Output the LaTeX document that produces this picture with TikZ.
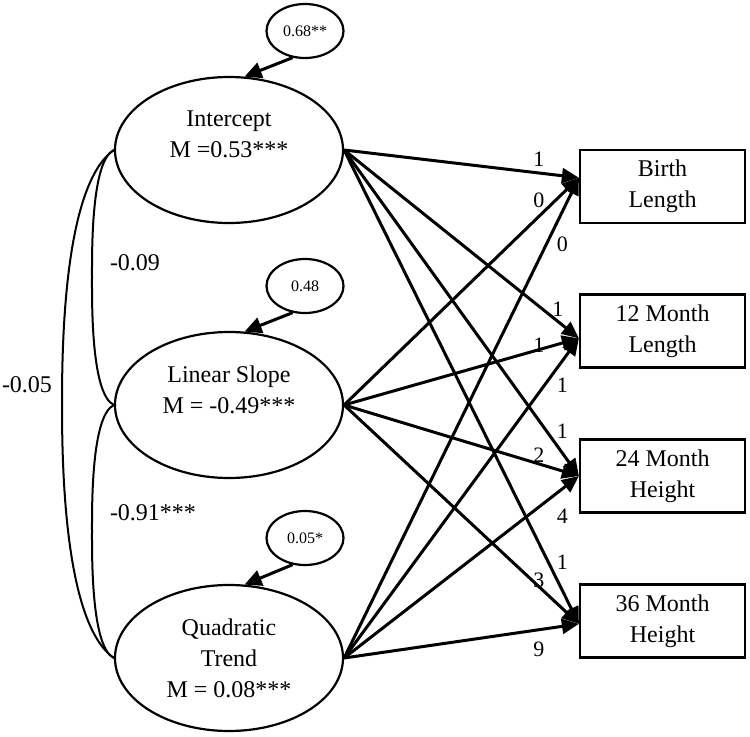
\documentclass[tikz,border=0pt]{standalone}
\usepackage{fontspec}
\setmainfont{Liberation Serif}
\usetikzlibrary{shapes.geometric,arrows.meta}

\begin{document}
\begin{tikzpicture}[x=0.5pt,y=0.5pt,
    factor/.style={draw,ellipse,line width=1.1pt,minimum width=114pt,minimum height=73pt,inner sep=0pt,align=center,font=\fontsize{12}{15.5}\selectfont},
    resid/.style={draw,ellipse,line width=1.1pt,minimum width=38.5pt,minimum height=27pt,inner sep=0pt,font=\fontsize{8}{10}\selectfont},
    measure/.style={draw,rectangle,line width=1.1pt,minimum width=82.5pt,minimum height=36.5pt,inner sep=0pt,align=center,font=\fontsize{12}{15.5}\selectfont},
    load/.style={-{Triangle[length=8.5pt,width=7.5pt]},line width=1.5pt},
    var/.style={-{Triangle[length=8.5pt,width=8pt]},line width=1.5pt},
    cov/.style={line width=1pt},
    coef/.style={inner sep=0.5pt,font=\fontsize{11}{13}\selectfont},
    covlab/.style={inner sep=0pt,font=\fontsize{12}{14}\selectfont}]
  \useasboundingbox (0,0) rectangle (750,736);

  \node[factor] (int) at (229,586) {Intercept\\M =0.53***\\\mbox{}};
  \node[factor] (lin) at (229,331) {Linear Slope\\M = -0.49***\\\mbox{}};
  \node[factor] (quad) at (229,78) {Quadratic\\Trend\\M = 0.08***};

  \node[resid] (vint) at (305,705) {0.68**};
  \node[resid] (vlin) at (305,450) {0.48};
  \node[resid] (vquad) at (305,198) {0.05*};

  \node[measure] (birth) at (662.5,549.5) {Birth\\Length};
  \node[measure] (m12) at (662.5,405) {12 Month\\Length};
  \node[measure] (m24) at (662.5,260) {24 Month\\Height};
  \node[measure] (m36) at (662.5,115) {36 Month\\Height};

  \path [var] (vint.-115) edge (int.78);
  \path [var] (vlin.-115) edge (lin.78);
  \path [var] (vquad.-115) edge (quad.78);

  \path [load] (int.east) edge node[coef,pos=.83,above=2.2pt] {1} (birth.174);
  \path [load] (int.east) edge node[coef,pos=.91,above=1.2pt] {1} (m12.185);
  \path [load] (int.east) edge node[coef,pos=.93,above=6pt] {1} (m24.west);
  \path [load] (int.east) edge node[coef,pos=.93,above=9.6pt] {1} (m36.182);
  \path [load] (lin.east) edge node[coef,pos=.83,above=3.2pt] {0} (birth.174);
  \path [load] (lin.east) edge node[coef,pos=.83,above=-2.8pt] {1} (m12.185);
  \path [load] (lin.east) edge node[coef,pos=.83,above=-0.3pt] {2} (m24.west);
  \path [load] (lin.east) edge node[coef,pos=.83,above=-1.7pt] {3} (m36.182);
  \path [load] (quad.east) edge node[coef,pos=.93,below=11.6pt] {0} (birth.174);
  \path [load] (quad.east) edge node[coef,pos=.93,below=7.6pt] {1} (m12.185);
  \path [load] (quad.east) edge node[coef,pos=.93,below=9.1pt] {4} (m24.west);
  \path [load] (quad.east) edge node[coef,pos=.83,below=5.1pt] {9} (m36.182);

  \coordinate (bendIL) at (92,458.5);
  \coordinate (bendLQ) at (92,204.5);
  \coordinate (bendIQ) at (62,332);
  \draw[cov] (int.west) to[out=205,in=90,looseness=0.5] (bendIL) to[out=-90,in=155,looseness=0.5] (lin.west);
  \draw[cov] (lin.west) to[out=205,in=90,looseness=0.5] (bendLQ) to[out=-90,in=155,looseness=0.5] (quad.west);
  \draw[cov] (int.west) to[out=215,in=90,looseness=0.6] (bendIQ) to[out=-90,in=145,looseness=0.6] (quad.west);

  \node[covlab] (rIL) at (135,473) {-0.09};
  \node[covlab] (rLQ) at (153,223) {-0.91***};
  \node[covlab] (rIQ) at (27,351) {-0.05};

\end{tikzpicture}
\end{document}
